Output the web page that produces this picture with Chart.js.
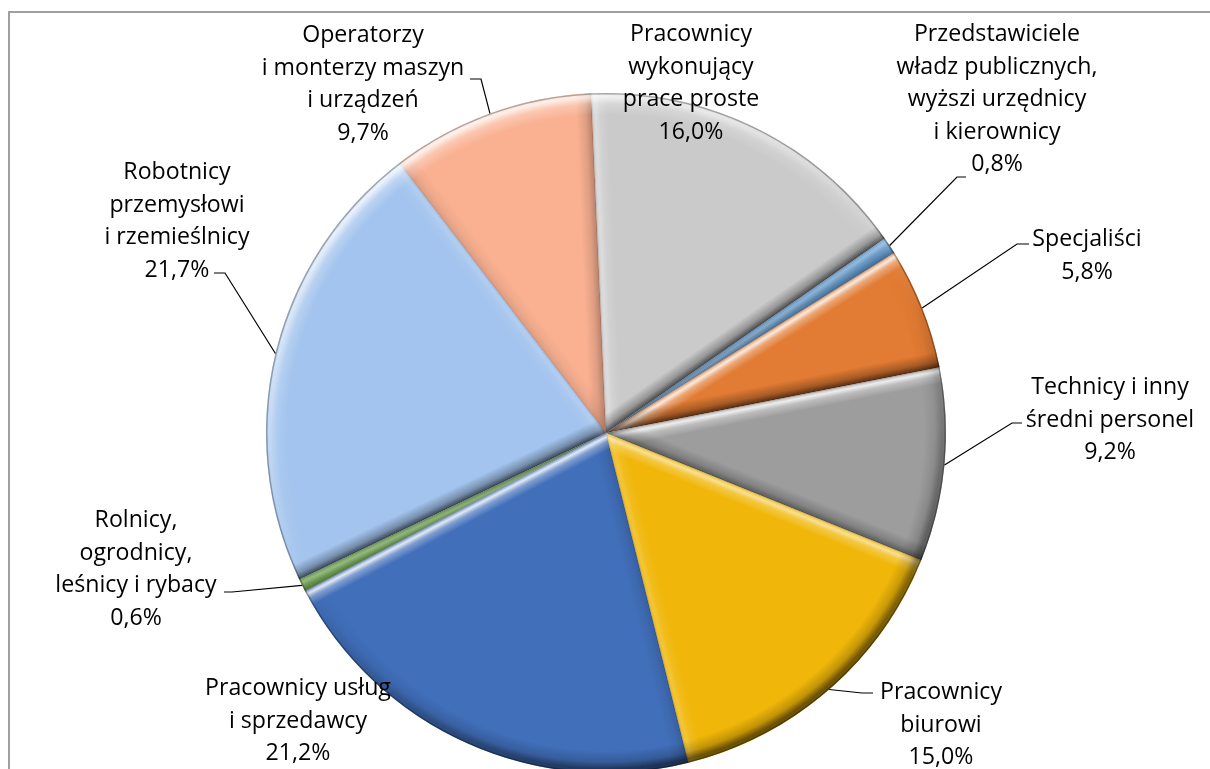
<!DOCTYPE html>
<html>
<head>
<meta charset="utf-8">
<script src="https://cdn.jsdelivr.net/npm/chart.js@4.4.1/dist/chart.umd.min.js"></script>
<style>
html,body{margin:0;padding:0;overflow:hidden;background:#fff}
#wrap{position:relative;width:1210px;height:780px}
</style>
</head>
<body>
<div id="wrap"><canvas id="c"></canvas></div>
<script>
// ---- data ----
const categories = [
  'Pracownicy\nwykonujący\nprace proste',
  'Przedstawiciele\nwładz publicznych,\nwyższi urzędnicy\ni kierownicy',
  'Specjaliści',
  'Technicy i inny\nśredni personel',
  'Pracownicy\nbiurowi',
  'Pracownicy usług\ni sprzedawcy',
  'Rolnicy,\nogrodnicy,\nleśnicy i rybacy',
  'Robotnicy\nprzemysłowi\ni rzemieślnicy',
  'Operatorzy\ni monterzy maszyn\ni urządzeń'
];
const values = [16.0, 0.8, 5.8, 9.2, 15.0, 21.2, 0.6, 21.7, 9.7];

// ---- styles / layout ----
const sliceColors = ['#CACACA','#5B9BD5','#E27B33','#9D9D9D','#F0B70A','#416FBA','#5F9E3A','#A3C4EE','#FAB192'];
// label anchor: centre x, first baseline y; lead: [labelSideX, y, elbowX]
const labelLayout = [
  {x:691,  y:41,  lead:null},
  {x:997,  y:41,  lead:[966,177,957]},
  {x:1087, y:246, lead:[1029,244,1017]},
  {x:1110, y:394, lead:[1022,423,1012]},
  {x:941,  y:699, lead:[873,693,862]},
  {x:298,  y:695, lead:null},
  {x:136,  y:527, lead:[224,592,232]},
  {x:177,  y:179, lead:[214,273,225]},
  {x:363,  y:42,  lead:[470,79,481]}
];
const LINE_H = 32.5;
const LIGHT = [-0.45, -0.89];

function fmtPct(v){ return v.toFixed(1).replace('.', ',') + '%'; }
function shade(b, k){
  return b > 0 ? `rgba(255,255,255,${Math.min(1, k * 0.85 * b).toFixed(3)})`
               : `rgba(0,0,0,${Math.min(1, k * 0.6 * -b).toFixed(3)})`;
}

const bevelPlugin = {
  id: 'bevel',
  afterDatasetsDraw(chart){
    const ctx = chart.ctx;
    const meta = chart.getDatasetMeta(0);
    const arcs = meta.data.map(el => el.getProps(['x','y','startAngle','endAngle','outerRadius'], true));
    if (!arcs.length) return;
    const cx = arcs[0].x, cy = arcs[0].y, R = arcs[0].outerRadius;

    // radial edge bevels, per slice
    arcs.forEach(p => {
      const {startAngle: sa, endAngle: ea} = p;
      const thin = Math.min(1, (ea - sa) / 0.25);
      ctx.save();
      ctx.beginPath(); ctx.moveTo(cx, cy); ctx.arc(cx, cy, R, sa, ea); ctx.closePath(); ctx.clip();
      [[sa, sa - Math.PI / 2], [ea, ea + Math.PI / 2]].forEach(([th, nth]) => {
        const nx = Math.cos(nth), ny = Math.sin(nth);
        const b = (nx * LIGHT[0] + ny * LIGHT[1]) * (0.35 + 0.65 * thin);
        const W = 16;
        const g = ctx.createLinearGradient(cx, cy, cx - nx * W, cy - ny * W);
        if (b > 0) {
          g.addColorStop(0, shade(b, 0.35));
          g.addColorStop(0.22, shade(b, 1));
          g.addColorStop(0.5, shade(b, 0.4));
          g.addColorStop(1, 'rgba(255,255,255,0)');
        } else {
          g.addColorStop(0, shade(b, 1.1));
          g.addColorStop(0.4, shade(b, 0.45));
          g.addColorStop(1, 'rgba(0,0,0,0)');
        }
        ctx.fillStyle = g;
        const ex = Math.cos(th) * (R + 10), ey = Math.sin(th) * (R + 10);
        ctx.beginPath();
        ctx.moveTo(cx, cy);
        ctx.lineTo(cx + ex, cy + ey);
        ctx.lineTo(cx + ex - nx * W, cy + ey - ny * W);
        ctx.lineTo(cx - nx * W, cy - ny * W);
        ctx.closePath();
        ctx.fill();
        ctx.strokeStyle = 'rgba(0,0,0,0.12)';
        ctx.lineWidth = 1.5;
        ctx.beginPath(); ctx.moveTo(cx, cy); ctx.lineTo(cx + ex, cy + ey); ctx.stroke();
      });
      ctx.restore();
    });

    // rim bevel (global ring, lighting by angle)
    const cw = chart.canvas.width, ch = chart.canvas.height, dpr = chart.currentDevicePixelRatio || 1;
    const off = document.createElement('canvas');
    off.width = cw; off.height = ch;
    const o = off.getContext('2d');
    o.setTransform(dpr, 0, 0, dpr, 0, 0);
    const BW = 22;
    const cg = o.createConicGradient(0, cx, cy);
    for (let k = 0; k <= 48; k++) {
      const t = k / 48, a = t * 2 * Math.PI;
      const b = Math.cos(a) * LIGHT[0] + Math.sin(a) * LIGHT[1];
      cg.addColorStop(t, shade(b, 0.95));
    }
    o.fillStyle = cg;
    o.beginPath(); o.arc(cx, cy, R, 0, 2 * Math.PI); o.arc(cx, cy, R - BW, 0, 2 * Math.PI, true); o.fill();
    o.globalCompositeOperation = 'destination-in';
    const rg = o.createRadialGradient(cx, cy, R - BW, cx, cy, R);
    rg.addColorStop(0, 'rgba(0,0,0,0)');
    rg.addColorStop(0.5, 'rgba(0,0,0,0.35)');
    rg.addColorStop(0.82, 'rgba(0,0,0,1)');
    rg.addColorStop(1, 'rgba(0,0,0,0.9)');
    o.fillStyle = rg;
    o.fillRect(0, 0, cw / dpr, ch / dpr);
    ctx.save();
    ctx.setTransform(1, 0, 0, 1, 0, 0);
    ctx.drawImage(off, 0, 0);
    ctx.restore();

    // thin dark outline at the rim
    ctx.save();
    ctx.beginPath(); ctx.arc(cx, cy, R, 0, 2 * Math.PI); ctx.clip();
    ctx.strokeStyle = 'rgba(0,0,0,0.3)';
    ctx.lineWidth = 3;
    ctx.beginPath(); ctx.arc(cx, cy, R, 0, 2 * Math.PI); ctx.stroke();
    ctx.restore();
  },
  afterDraw(chart){
    const ctx = chart.ctx;
    const meta = chart.getDatasetMeta(0);
    ctx.save();
    // frame
    ctx.strokeStyle = '#a0a0a0';
    ctx.lineWidth = 2;
    ctx.strokeRect(9, 12, 1400, 1000);
    // labels
    ctx.font = '22px "Open Sans"';
    const w0 = ctx.measureText('Pracownicy').width;
    const fs = 22 * 122 / w0;
    ctx.font = fs.toFixed(2) + 'px "Open Sans"';
    ctx.fillStyle = '#000';
    ctx.textAlign = 'center';
    ctx.textBaseline = 'alphabetic';
    meta.data.forEach((el, i) => {
      const pos = labelLayout[i];
      const lines = categories[i].split('\n').concat([fmtPct(values[i])]);
      lines.forEach((t, k) => ctx.fillText(t, pos.x, pos.y + k * LINE_H));
      if (pos.lead) {
        const p = el.getProps(['x','y','startAngle','endAngle','outerRadius'], true);
        const mid = (p.startAngle + p.endAngle) / 2;
        const px = p.x + p.outerRadius * Math.cos(mid);
        const py = p.y + p.outerRadius * Math.sin(mid);
        ctx.strokeStyle = '#000';
        ctx.lineWidth = 1.2;
        ctx.beginPath();
        ctx.moveTo(pos.lead[0], pos.lead[1]);
        ctx.lineTo(pos.lead[2], pos.lead[1]);
        ctx.lineTo(px, py);
        ctx.stroke();
      }
    });
    ctx.restore();
  }
};

new Chart(document.getElementById('c'), {
  type: 'pie',
  data: {
    labels: categories.map(c => c.replace(/\n/g, ' ')),
    datasets: [{
      data: values,
      backgroundColor: sliceColors,
      borderWidth: 0,
      hoverOffset: 0,
      offset: 0
    }]
  },
  options: {
    responsive: true,
    maintainAspectRatio: false,
    animation: false,
    rotation: -2.5,
    layout: { padding: { left: 266, right: 264, top: 93, bottom: 7 } },
    plugins: { legend: { display: false }, tooltip: { enabled: false } },
    events: []
  },
  plugins: [bevelPlugin]
});
</script>
</body>
</html>
